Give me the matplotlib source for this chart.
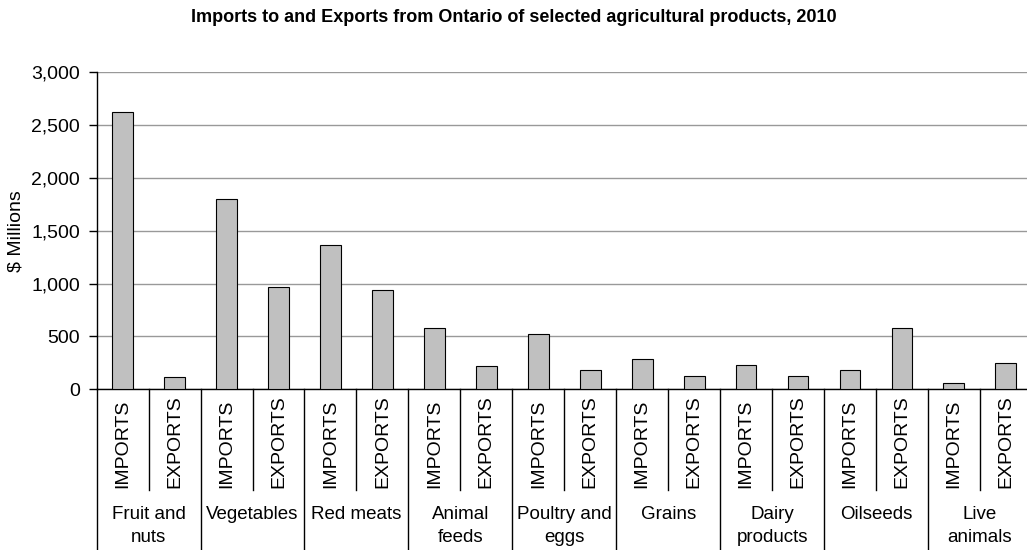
import numpy as np
import matplotlib
matplotlib.use("Agg")
from matplotlib import pyplot

# Data ($ millions, 2010)

groups = [
    "Fruit and\nnuts", "Vegetables", "Red meats", "Animal\nfeeds",
    "Poultry and\neggs", "Grains", "Dairy\nproducts", "Oilseeds", "Live\nanimals",
]
flows = ["IMPORTS", "EXPORTS"]
imports = [2620, 1800, 1360, 580, 520, 290, 230, 185, 55]
exports = [115, 970, 935, 220, 185, 123, 123, 583, 252]
yticks = [0, 500, 1000, 1500, 2000, 2500, 3000]

values = []
for imp, exp in zip(imports, exports):
    values += [imp, exp]
n = len(values)
x = np.arange(n)

pyplot.rcParams["font.family"] = ["Liberation Sans", "DejaVu Sans"]

W, H = 1027, 550
fig = pyplot.figure(figsize=(W / 100, H / 100), dpi=100)

# axes box in pixels
left_px, right_px, top_px, bot_px = 96.7, 1031.8, 72.0, 389.3
ax = fig.add_axes([left_px / W, 1 - bot_px / H,
                   (right_px - left_px) / W, (bot_px - top_px) / H])
ax_h = bot_px - top_px


def yfrac(py):
    # pixel row below the axes -> axes fraction
    return (bot_px - py) / ax_h


ax.bar(x, values, width=0.4, color="#c0c0c0", edgecolor="black", linewidth=0.8, zorder=3)

ax.set_xlim(-0.5, n - 0.5)
ax.set_ylim(0, 3000)
ax.set_yticks(yticks)
ax.set_yticklabels([f"{v:,}" for v in yticks], fontsize=14)
ax.tick_params(axis="y", direction="out", length=6, width=1, pad=6)
ax.set_xticks([])
ax.yaxis.grid(True, color="#999999", linewidth=1)
ax.set_axisbelow(True)
for s in ["top", "right"]:
    ax.spines[s].set_visible(False)
for s in ["left", "bottom"]:
    ax.spines[s].set_color("black")
    ax.spines[s].set_linewidth(1)

ax.set_ylabel("$ Millions", fontsize=14, labelpad=5)

trans = ax.get_xaxis_transform()

# separators under the axis: short between flows, long between groups
for i in range(n + 1):
    xb = i - 0.5
    bottom = yfrac(552) if i % 2 == 0 else yfrac(490)
    ax.plot([xb, xb], [0, bottom], transform=trans, color="black",
            linewidth=1, clip_on=False)

for i in range(n):
    ax.text(x[i], yfrac(488), flows[i % 2], transform=trans, rotation=90,
            ha="center", va="bottom", fontsize=14)

for g, name in enumerate(groups):
    ax.text(2 * g + 0.5, yfrac(506), name, transform=trans, ha="center",
            va="top", fontsize=13.5, linespacing=1.45, multialignment="center")

fig.text(0.5, 1 - 17 / H, "Imports to and Exports from Ontario of selected agricultural products, 2010",
         ha="center", va="center", fontsize=13, fontweight="bold")

fig.savefig("out.png", dpi=100)
